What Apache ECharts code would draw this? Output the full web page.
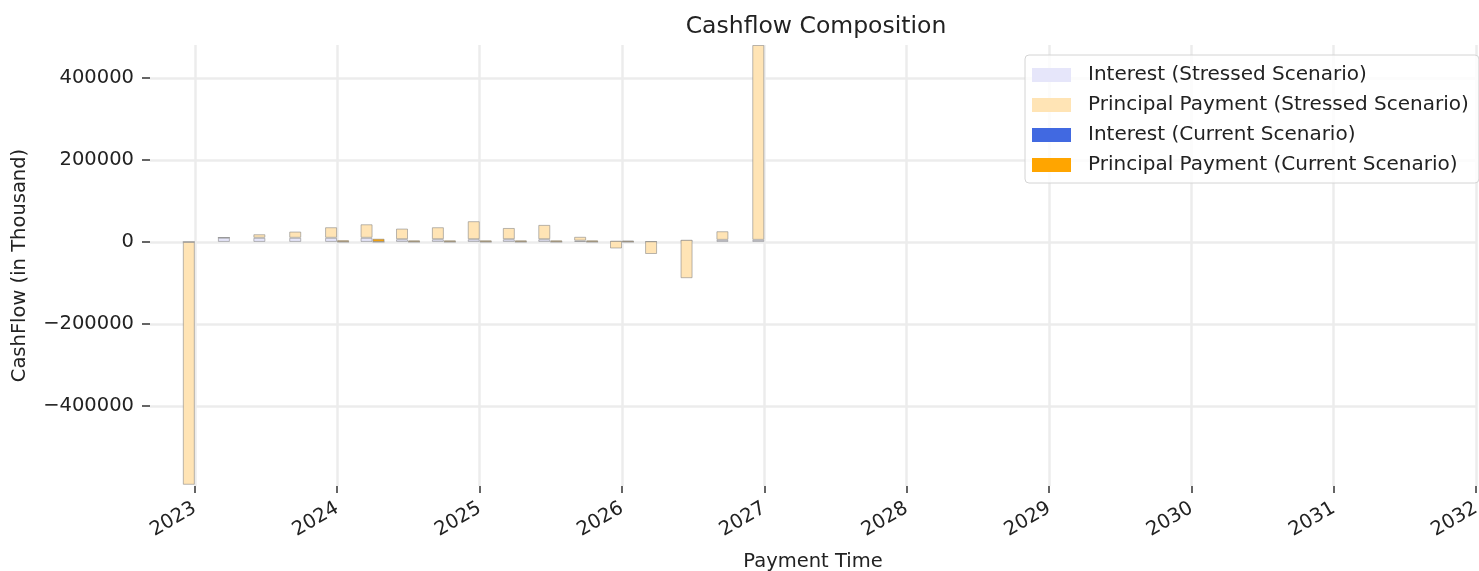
<!DOCTYPE html>
<html>
<head>
<meta charset="utf-8">
<script src="https://cdn.jsdelivr.net/npm/echarts@6/dist/echarts.min.js"></script>
<style>
html,body{margin:0;padding:0;background:#fff;overflow:hidden;}
#chart{width:1479px;height:571px;}
</style>
</head>
<body>
<div id="chart"></div>
<script>
// Payment dates (quarterly)
const dates = ['2023-01-01','2023-04-01','2023-07-01','2023-10-01',
  '2024-01-01','2024-04-01','2024-07-01','2024-10-01',
  '2025-01-01','2025-04-01','2025-07-01','2025-10-01',
  '2026-01-01','2026-04-01','2026-07-01','2026-10-01','2027-01-01'];
// Stressed scenario (in thousand)
const stressedInterest = [0, 10500, 10000, 10000, 10000, 10000, 6500, 6500,
  6500, 6500, 6500, 3000, 2500, 1500, 5000, 5000, 5000];
const stressedPrincipal = [-592000, 0, 8700, 15200, 25800, 33000, 26000, 29300,
  44000, 27500, 35000, 9500, -18500, -31000, -93500, 21000, 475000];
// Current scenario (in thousand); null = no bar
const currentInterest = [null, null, null, null, 300, 300, 300, 300,
  300, 300, 300, 300, 300, null, null, null, null];
const currentPrincipal = [null, null, null, null, 3800, 7500, 3500, 3500,
  3500, 3500, 3500, 3500, 3000, null, null, null, null];
const seriesNames = ['Interest (Stressed Scenario)', 'Principal Payment (Stressed Scenario)',
  'Interest (Current Scenario)', 'Principal Payment (Current Scenario)'];
const yTicks = [-400000, -200000, 0, 200000, 400000];
const xRange = ['2022-09-08', '2032-01-01'];

const W = 1479, H = 571;
const GRID = {left: 150, right: 3, top: 45, bottom: 85};
const BAR_W = 12;
const pair = arr => dates.map((d, i) => [d, arr[i] === null ? '-' : arr[i]]);
const FONT = 'DejaVu Sans';
const edge = {borderColor: 'rgba(128,128,128,0.55)', borderWidth: 1};
const grid = '#ececec';

// ECharts widens a time axis carrying bars by the bars' overflow; pre-shrink so the
// visible range equals xRange.
const axisLen = W - GRID.left - GRID.right;
const xa = new Date(xRange[0] + 'T00:00:00').getTime();
const xb = new Date(xRange[1] + 'T00:00:00').getTime();
const pad = (xb - xa) * BAR_W / axisLen;

const chart = echarts.init(document.getElementById('chart'), null, {renderer: 'canvas', width: W, height: H});
chart.setOption({
  animation: false,
  textStyle: {fontFamily: FONT},
  title: {
    text: 'Cashflow Composition', left: 811, top: 10, textAlign: 'center',
    textStyle: {fontFamily: FONT, fontSize: 23.5, fontWeight: 'normal', color: '#222'}
  },
  grid: Object.assign({containLabel: false, outerBoundsMode: 'none'}, GRID),
  legend: {
    left: 1025, top: 55, orient: 'vertical',
    itemWidth: 39, itemHeight: 14, itemGap: 10,
    padding: [10, 10, 8, 7],
    backgroundColor: 'rgba(255,255,255,0.85)',
    borderColor: '#d4d4d4', borderWidth: 1, borderRadius: 4,
    textStyle: {fontFamily: FONT, fontSize: 20, color: '#222', lineHeight: 20, padding: [0, 0, 0, 12]},
    data: seriesNames.map(n => ({name: n, icon: 'rect', itemStyle: {borderWidth: 0}}))
  },
  xAxis: {
    type: 'time',
    min: xa + pad, max: xb - pad,
    splitNumber: 10,
    minInterval: 365 * 86400000,
    name: 'Payment Time', nameLocation: 'middle', nameGap: 66,
    nameTextStyle: {fontFamily: FONT, fontSize: 19.5, color: '#222'},
    axisLine: {show: false, onZero: false},
    axisTick: {show: true, length: 7, lineStyle: {color: '#333', width: 1.5}},
    axisLabel: {
      rotate: 30, margin: 21, color: '#222', fontFamily: FONT, fontSize: 19.5,
      showMinLabel: false, showMaxLabel: true,
      formatter: v => { const d = new Date(v); return (d.getMonth() === 0 && d.getDate() === 1) ? String(d.getFullYear()) : ''; }
    },
    splitLine: {show: true, lineStyle: {color: ['transparent', grid, grid, grid, grid, grid, grid, grid, grid, grid, grid, grid], width: 2.5}}
  },
  yAxis: {
    type: 'value',
    min: -595000, max: 480000, splitNumber: 5,
    name: 'CashFlow (in Thousand)', nameLocation: 'middle', nameGap: 120, nameRotate: 90,
    nameTextStyle: {fontFamily: FONT, fontSize: 19.5, color: '#222'},
    axisLine: {show: false},
    axisTick: {show: true, length: 8, lineStyle: {color: '#333', width: 1.5}},
    axisLabel: {
      color: '#222', fontFamily: FONT, fontSize: 19.5, margin: 16,
      showMinLabel: false, showMaxLabel: false,
      formatter: v => yTicks.indexOf(v) < 0 ? '' : (v < 0 ? '\u2212' + Math.abs(v) : String(v))
    },
    splitLine: {show: true, lineStyle: {color: ['transparent', grid, grid, grid, grid, grid, 'transparent'], width: 2.5}}
  },
  series: [
    {name: seriesNames[0], type: 'bar', stack: 'stressed', stackStrategy: 'all', barWidth: BAR_W, barGap: '0%',
      itemStyle: Object.assign({color: '#e6e6fa'}, edge), data: pair(stressedInterest)},
    {name: seriesNames[1], type: 'bar', stack: 'stressed', stackStrategy: 'all', barWidth: BAR_W, barGap: '0%',
      itemStyle: Object.assign({color: '#ffe4b5'}, edge), data: pair(stressedPrincipal)},
    {name: seriesNames[2], type: 'bar', stack: 'current', stackStrategy: 'all', barWidth: BAR_W, barGap: '0%',
      itemStyle: Object.assign({color: '#4169e1'}, edge), data: pair(currentInterest)},
    {name: seriesNames[3], type: 'bar', stack: 'current', stackStrategy: 'all', barWidth: BAR_W, barGap: '0%',
      itemStyle: Object.assign({color: '#ffa500'}, edge), data: pair(currentPrincipal)}
  ]
});
</script>
</body>
</html>
